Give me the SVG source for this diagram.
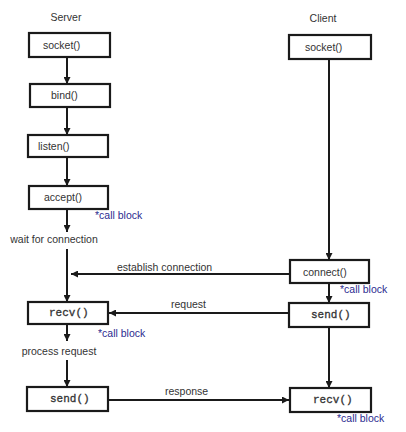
<svg xmlns="http://www.w3.org/2000/svg" width="406" height="432" viewBox="0 0 406 432">
<defs>
<marker id="ah" viewBox="0 0 10 10" refX="10" refY="5" markerWidth="7" markerHeight="7" markerUnits="userSpaceOnUse" orient="auto">
<path d="M0,0 L10,5 L0,10 z" fill="#1a1a1a"/>
</marker>
<style>
.box{fill:#fff;stroke:#1a1a1a;stroke-width:2.2}
.lbl{font-family:"Liberation Sans",Arial,sans-serif;font-size:10.5px;fill:#333}
.mono{font-family:"Liberation Mono","Courier New",monospace;font-size:11px;fill:#333;stroke:#333;stroke-width:0.3}
.cb{font-family:"Liberation Sans",Arial,sans-serif;font-size:10.5px;fill:#2b2b8f}
.ln{stroke:#1a1a1a;stroke-width:2;fill:none}
.ar{stroke:#1a1a1a;stroke-width:2;fill:none;marker-end:url(#ah)}
</style>
</defs>
<rect width="406" height="432" fill="#fff"/>
<text class="lbl" x="66" y="21" text-anchor="middle">Server</text>
<text class="lbl" x="323" y="22" text-anchor="middle">Client</text>

<g id="connectors">
<line class="ar" x1="67" y1="57" x2="67" y2="84"/>
<line class="ar" x1="67" y1="107" x2="67" y2="135"/>
<line class="ar" x1="67" y1="157" x2="67" y2="186"/>
<line class="ar" x1="67" y1="209" x2="67" y2="232"/>
<line class="ar" x1="67" y1="249" x2="67" y2="302"/>
<line class="ar" x1="329" y1="59" x2="329" y2="260"/>
<line class="ar" x1="290" y1="274" x2="71" y2="274"/>
<line class="ar" x1="329" y1="283" x2="329" y2="303"/>
<line class="ar" x1="289" y1="313" x2="109" y2="313"/>
<line class="ar" x1="67" y1="324" x2="67" y2="341"/>
<line class="ar" x1="67" y1="360" x2="67" y2="387"/>
<line class="ar" x1="329" y1="327" x2="329" y2="388"/>
<line class="ar" x1="108" y1="400" x2="289" y2="400"/>
<text class="lbl" x="117" y="271">establish connection</text>
<text class="lbl" x="171" y="308">request</text>
<text class="lbl" x="165" y="395">response</text>
</g>

<g id="s_socket"><rect class="box" x="29" y="33" width="81" height="24"/><text class="lbl" x="43" y="49">socket()</text></g>
<g id="s_bind"><rect class="box" x="30" y="84" width="80" height="23"/><text class="lbl" x="51" y="99">bind()</text></g>
<g id="s_listen"><rect class="box" x="28" y="135" width="80" height="22"/><text class="lbl" x="38" y="150">listen()</text></g>
<g id="s_accept"><rect class="box" x="29" y="186" width="79" height="23"/><text class="lbl" x="44" y="201">accept()</text></g>
<text class="cb" x="95" y="219">*call block</text>
<text class="lbl" x="54" y="243" text-anchor="middle">wait for connection</text>
<g id="s_recv"><rect class="box" x="28" y="302" width="80" height="22"/><text class="mono" x="49" y="316">recv()</text></g>
<text class="cb" x="98" y="337">*call block</text>
<text class="lbl" x="59" y="355" text-anchor="middle">process request</text>
<g id="s_send"><rect class="box" x="27" y="387" width="81" height="24"/><text class="mono" x="50" y="402">send()</text></g>

<g id="c_socket"><rect class="box" x="289" y="35" width="82" height="24"/><text class="lbl" x="305" y="51">socket()</text></g>
<g id="c_connect"><rect class="box" x="290" y="260" width="79" height="23"/><text class="lbl" x="303" y="276">connect()</text></g>
<text class="cb" x="340" y="293">*call block</text>
<g id="c_send"><rect class="box" x="289" y="303" width="80" height="24"/><text class="mono" x="311" y="318">send()</text></g>
<g id="c_recv"><rect class="box" x="290" y="388" width="81" height="24"/><text class="mono" x="313" y="403">recv()</text></g>
<text class="cb" x="337" y="422">*call block</text>
</svg>
